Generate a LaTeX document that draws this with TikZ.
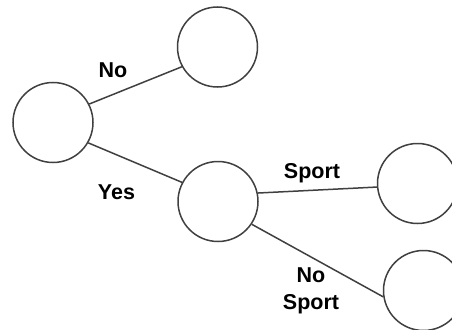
\documentclass[tikz,border=0pt]{standalone}
\usepackage{fontspec}
\setmainfont{Liberation Sans}
\begin{document}
\begin{tikzpicture}[x=1pt,y=-1pt,
  state/.style={circle, draw=black!75, line width=1.5pt, minimum size=80pt, inner sep=0pt, fill=white},
  branch/.style={draw=black!75, line width=1.5pt},
  tag/.style={font=\fontsize{21.5}{27}\selectfont\bfseries, text=black, align=center}]
  \useasboundingbox (0,0) rectangle (452,329);
  \clip (0,0) rectangle (452,329);
  % decision nodes
  \node[state] (root) at (53,122.5) {};
  \node[state] (leafno) at (217.5,47) {};
  \node[state] (mid) at (218,201.5) {};
  \node[state] (leafsport) at (417.5,183.5) {};
  \node[state] (leafnosport) at (423.5,290.5) {};
  % branches
  \draw[branch] (root.27) -- (leafno.209);
  \draw[branch] (root.-30) -- (mid.152);
  \draw[branch] (mid.12) -- (leafsport.185);
  \draw[branch] (mid.-34) -- (leafnosport.189);
  % branch labels
  \node[tag] (lno) at (113,70) {No};
  \node[tag] (lyes) at (116.5,192) {Yes};
  \node[tag] (lsport) at (312,173) {Sport};
  \node[tag] (lnosport) at (311,290.5) {No\\Sport};
\end{tikzpicture}
\end{document}
